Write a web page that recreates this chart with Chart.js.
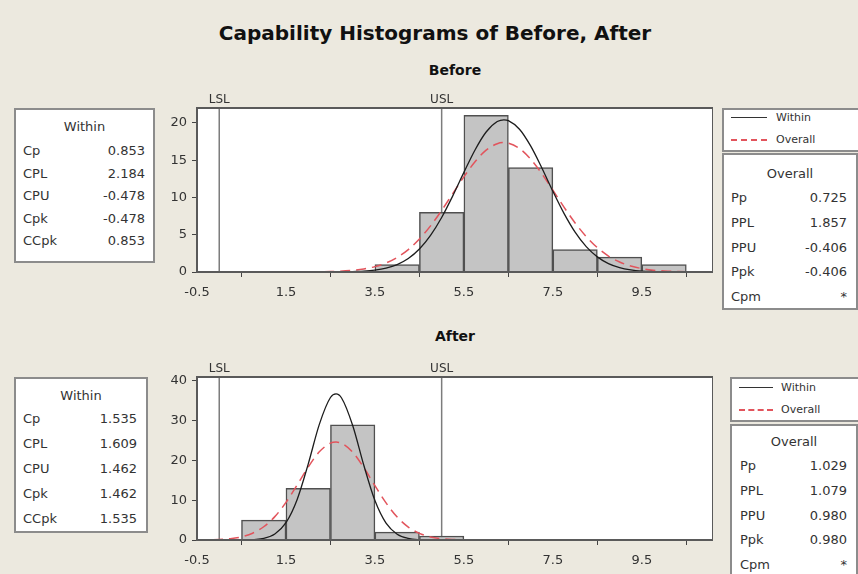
<!DOCTYPE html>
<html><head><meta charset="utf-8">
<script src="https://cdn.jsdelivr.net/npm/chart.js@4/dist/chart.umd.min.js"></script>
<style>
html,body{margin:0;padding:0;}
body{width:858px;height:574px;background:#ECE9DF;position:relative;overflow:hidden;font-family:"DejaVu Sans",sans-serif;color:#2a2a2a;}
.abs{position:absolute;white-space:nowrap;}
#title{left:0;width:870px;top:21px;text-align:center;font-weight:bold;font-size:20px;color:#111;}
.sub{font-weight:bold;font-size:14px;text-align:center;width:200px;left:355px;color:#111;}
.box{position:absolute;background:#fff;border:2px solid #8c8c8c;box-sizing:border-box;}
.row{position:absolute;left:0;right:0;font-size:13px;height:16px;line-height:16px;color:#333;}
.row .k{position:absolute;}
.row .v{position:absolute;}
.head{position:absolute;left:0;right:0;text-align:center;font-size:13px;height:16px;line-height:16px;color:#333;}
.leg{position:absolute;font-size:11px;height:14px;line-height:14px;color:#333;}
canvas{position:absolute;}
</style>
</head>
<body>
<div id="title" class="abs">Capability Histograms of Before, After</div>
<div class="abs sub" style="top:62px">Before</div>
<div class="abs sub" style="top:328px">After</div>
<canvas id="c1" width="553" height="214" style="left:160px;top:88px"></canvas>
<canvas id="c2" width="553" height="213" style="left:160px;top:357px"></canvas>
<script>
// ---- data ----
const xTicks = [-0.5, 1.5, 3.5, 5.5, 7.5, 9.5];
const specValues = [0, 5];
const specLabels = ['LSL', 'USL'];

const beforeBinCenters = [1, 2, 3, 4, 5, 6, 7, 8, 9, 10];
const beforeCounts = [0, 0, 0, 1, 8, 21, 14, 3, 2, 1];
const beforeYTicks = [0, 5, 10, 15, 20];

const afterBinCenters = [1, 2, 3, 4, 5];
const afterCounts = [5, 13, 29, 2, 1];
const afterYTicks = [0, 10, 20, 30, 40];

const beforeWithinX = [3.0,3.25,3.5,3.75,4.0,4.25,4.5,4.75,5.0,5.25,5.5,5.75,6.0,6.25,6.4,6.5,6.75,7.0,7.25,7.5,7.75,8.0,8.25,8.5,8.75,9.0,9.25,9.5,9.75,10.0];
const beforeWithinY = [0.05,0.11,0.25,0.52,1.00,1.81,3.08,4.91,7.31,10.21,13.36,16.37,18.78,20.18,20.42,20.31,19.15,16.91,13.99,10.83,7.86,5.34,3.40,2.03,1.13,0.59,0.29,0.13,0.06,0.02];
const beforeOverallX = [2.0,2.5,3.0,3.25,3.5,3.75,4.0,4.25,4.5,4.75,5.0,5.25,5.5,5.75,6.0,6.25,6.4,6.5,6.75,7.0,7.25,7.5,7.75,8.0,8.25,8.5,8.75,9.0,9.25,9.5,9.75,10.0,10.5,11.0];
const beforeOverallY = [0.01,0.06,0.22,0.41,0.72,1.21,1.96,3.01,4.42,6.19,8.26,10.52,12.77,14.79,16.34,17.21,17.36,17.29,16.57,15.15,13.20,10.98,8.70,6.58,4.75,3.27,2.14,1.34,0.80,0.46,0.25,0.13,0.03,0.01];

const afterWithinX = [0.75,1.0,1.25,1.5,1.75,2.0,2.25,2.5,2.625,2.75,3.0,3.25,3.5,3.75,4.0,4.25,4.5,4.75];
const afterWithinY = [0.10,0.43,1.52,4.36,10.15,19.10,29.09,35.84,36.74,35.72,28.80,18.79,9.91,4.23,1.46,0.41,0.09,0.02];
const afterOverallX = [-0.5,-0.25,0.0,0.25,0.5,0.75,1.0,1.25,1.5,1.75,2.0,2.25,2.5,2.625,2.75,3.0,3.25,3.5,3.75,4.0,4.25,4.5,4.75,5.0,5.25,5.5];
const afterOverallY = [0.02,0.05,0.13,0.34,0.80,1.71,3.33,5.88,9.45,13.82,18.36,22.18,24.36,24.63,24.32,22.08,18.22,13.67,9.33,5.78,3.26,1.67,0.78,0.33,0.13,0.04];

const withinLabels = ['Cp', 'CPL', 'CPU', 'Cpk', 'CCpk'];
const overallLabels = ['Pp', 'PPL', 'PPU', 'Ppk', 'Cpm'];
const beforeWithinStats = ['0.853', '2.184', '-0.478', '-0.478', '0.853'];
const beforeOverallStats = ['0.725', '1.857', '-0.406', '-0.406', '*'];
const afterWithinStats = ['1.535', '1.609', '1.462', '1.462', '1.535'];
const afterOverallStats = ['1.029', '1.079', '0.980', '0.980', '*'];

// ---- stat boxes ----
function statBox(left, top, width, height, headY, head, labels, values, rowY0, rowStep, padL, padR) {
  const b = document.createElement('div');
  b.className = 'box';
  Object.assign(b.style, {left: left + 'px', top: top + 'px', width: width + 'px', height: height + 'px'});
  const h = document.createElement('div');
  h.className = 'head'; h.style.top = (headY - 8) + 'px'; h.textContent = head;
  b.appendChild(h);
  labels.forEach((l, i) => {
    const r = document.createElement('div');
    r.className = 'row'; r.style.top = (rowY0 + rowStep * i - 8) + 'px';
    const k = document.createElement('span'); k.className = 'k'; k.style.left = padL + 'px'; k.textContent = l;
    const v = document.createElement('span'); v.className = 'v'; v.style.right = padR + 'px'; v.textContent = values[i];
    r.appendChild(k); r.appendChild(v); b.appendChild(r);
  });
  document.body.appendChild(b);
}
function legendBox(left, top, width, height, y1, y2, lineL, lineW, textL) {
  const b = document.createElement('div');
  b.className = 'box';
  Object.assign(b.style, {left: left + 'px', top: top + 'px', width: width + 'px', height: height + 'px'});
  [['Within', y1, '1.5px solid #333'], ['Overall', y2, '2px dashed #e2545c']].forEach(([t, y, st]) => {
    const ln = document.createElement('div');
    Object.assign(ln.style, {position: 'absolute', left: lineL + 'px', width: lineW + 'px', top: (y - 1) + 'px', height: '0', borderTop: st});
    const tx = document.createElement('div');
    tx.className = 'leg'; tx.style.left = textL + 'px'; tx.style.top = (y - 7) + 'px'; tx.textContent = t;
    b.appendChild(ln); b.appendChild(tx);
  });
  document.body.appendChild(b);
}
statBox(14, 108, 141, 155, 17, 'Within', withinLabels, beforeWithinStats, 41, 22.5, 7, 8);
statBox(14, 377, 134, 156, 17, 'Within', withinLabels, afterWithinStats, 40, 25, 7, 9);
legendBox(722, 108, 140, 44, 8, 30, 7, 36, 52);
statBox(722, 153, 136, 157, 19, 'Overall', overallLabels, beforeOverallStats, 43, 24.75, 7, 9);
legendBox(730, 377, 132, 45, 9, 31, 7, 34, 49);
statBox(730, 424, 128, 160, 16, 'Overall', overallLabels, afterOverallStats, 40, 24.75, 8, 9);

// ---- charts ----
const chartPlugin = {
  id: 'capFrame',
  beforeDraw(chart) {
    const {ctx, chartArea: a} = chart;
    ctx.save(); ctx.fillStyle = '#ffffff';
    ctx.fillRect(a.left, a.top, a.right - a.left, a.bottom - a.top);
    ctx.restore();
  },
  beforeDatasetsDraw(chart) {
    const {ctx, chartArea: a, scales: {x}} = chart;
    ctx.save();
    specValues.forEach((v, i) => {
      const px = x.getPixelForValue(v);
      ctx.strokeStyle = '#7c7c7c'; ctx.lineWidth = 1.5;
      ctx.beginPath(); ctx.moveTo(px, a.top); ctx.lineTo(px, a.bottom); ctx.stroke();
      ctx.fillStyle = '#333'; ctx.font = '12px "DejaVu Sans"';
      ctx.textAlign = 'center'; ctx.textBaseline = 'bottom';
      ctx.fillText(specLabels[i], px, a.top - 2);
    });
    ctx.restore();
  },
  afterDatasetsDraw(chart) {
    const {ctx, chartArea: a} = chart;
    ctx.save(); ctx.strokeStyle = '#5a5a5a'; ctx.lineWidth = 2;
    ctx.strokeRect(a.left, a.top, a.right - a.left, a.bottom - a.top);
    ctx.restore();
  }
};

function makeChart(id, centers, counts, wX, wY, oX, oY, yMax, yTicks) {
  const tickFont = {family: '"DejaVu Sans"', size: 13};
  return new Chart(document.getElementById(id), {
    type: 'bar',
    data: {datasets: [
      {type: 'bar', data: centers.map((c, i) => ({x: c, y: counts[i]})),
       backgroundColor: '#c4c4c4', borderColor: '#505050', borderWidth: 1.5,
       barPercentage: 1, categoryPercentage: 1, order: 3},
      {type: 'line', data: oX.map((x, i) => ({x: x, y: oY[i]})),
       borderColor: '#e2545c', borderWidth: 1.5, borderDash: [10, 6], pointRadius: 0,
       cubicInterpolationMode: 'monotone', fill: false, order: 2},
      {type: 'line', data: wX.map((x, i) => ({x: x, y: wY[i]})),
       borderColor: '#1c1c1c', borderWidth: 1.3, pointRadius: 0,
       cubicInterpolationMode: 'monotone', fill: false, order: 1}
    ]},
    options: {
      responsive: false, animation: false, devicePixelRatio: 1,
      layout: {padding: {top: 20, left: 0, right: 0, bottom: 0}},
      plugins: {legend: {display: false}, tooltip: {enabled: false}},
      scales: {
        x: {type: 'linear', min: -0.5, max: 11.1, offset: false,
            afterBuildTicks: s => { s.ticks = xTicks.map(v => ({value: v})); },
            afterFit: s => { s.height = 30; },
            ticks: {callback: v => Number(v).toFixed(1), font: tickFont, color: '#333', padding: 8, maxRotation: 0, autoSkip: false},
            grid: {drawOnChartArea: false, tickLength: 5, color: '#444'},
            border: {color: '#444'}},
        y: {type: 'linear', min: 0, max: yMax,
            afterBuildTicks: s => { s.ticks = yTicks.map(v => ({value: v})); },
            afterFit: s => { s.width = 37; },
            ticks: {font: tickFont, color: '#333', padding: 5},
            grid: {drawOnChartArea: false, tickLength: 5, color: '#444'},
            border: {color: '#444'}}
      }
    },
    plugins: [chartPlugin]
  });
}
makeChart('c1', beforeBinCenters, beforeCounts, beforeWithinX, beforeWithinY, beforeOverallX, beforeOverallY, 22, beforeYTicks);
makeChart('c2', afterBinCenters, afterCounts, afterWithinX, afterWithinY, afterOverallX, afterOverallY, 41, afterYTicks);
</script>
</body></html>
